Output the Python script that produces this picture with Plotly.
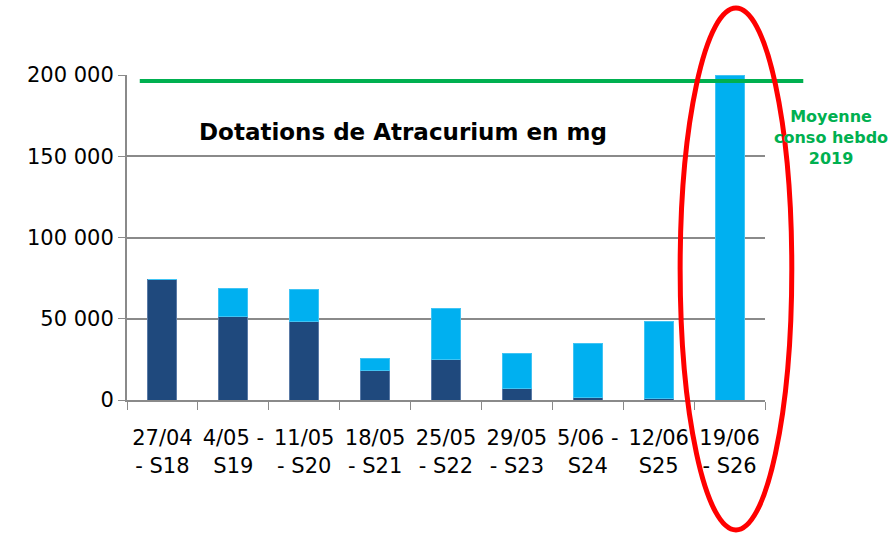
import plotly.graph_objects as go

categories = ["27/04<br>- S18", "4/05 -<br>S19", "11/05<br>- S20", "18/05<br>- S21",
              "25/05<br>- S22", "29/05<br>- S23", "5/06 -<br>S24", "12/06<br>S25", "19/06<br>- S26"]
dark_values = [74000, 51500, 48300, 18300, 24900, 7200, 1600, 1000, 0]
light_values = [0, 17100, 19500, 7000, 31400, 21400, 33100, 47300, 200000]
moyenne_2019 = 196300
y_ticks = [0, 50000, 100000, 150000, 200000]

FONT = "DejaVu Sans, sans-serif"
GRID = "#8a8a8a"

fig = go.Figure()
fig.add_trace(go.Bar(x=categories, y=dark_values, marker=dict(color="#1F497D", line=dict(color="#5a7aa6", width=1)),
                     width=0.41, name="S1"))
fig.add_trace(go.Bar(x=categories, y=light_values, marker=dict(color="#00B0F0", line=dict(color="#40c4f4", width=1)),
                     width=0.41, name="S2"))

fig.add_shape(type="line", xref="paper", yref="y", x0=0.02, x1=1.06, y0=moyenne_2019, y1=moyenne_2019,
              line=dict(color="#00B050", width=4))
fig.add_shape(type="circle", xref="paper", yref="paper", x0=0.867, x1=1.042, y0=-0.40, y1=1.206,
              line=dict(color="#FF0000", width=5))

fig.add_annotation(text="<b>Dotations de Atracurium en mg</b>", xref="paper", yref="paper",
                   x=0.433, y=0.825, xanchor="center", yanchor="middle", showarrow=False,
                   font=dict(family=FONT, size=23, color="#000000"))
fig.add_annotation(text="<b>Moyenne<br>conso hebdo<br>2019</b>", xref="paper", yref="paper",
                   x=1.104, y=0.809, xanchor="center", yanchor="middle", showarrow=False,
                   font=dict(family=FONT, size=16, color="#00B050"))

fig.update_layout(
    width=888, height=533,
    margin=dict(l=127, r=123, t=75, b=133),
    plot_bgcolor="white", paper_bgcolor="white",
    barmode="stack", showlegend=False,
    separators=", ",
    font=dict(family=FONT, size=21, color="#000000"),
    xaxis=dict(type="category", tickson="boundaries", ticks="outside", ticklen=8, tickcolor=GRID,
               showline=True, linecolor=GRID, linewidth=2, showgrid=False, ticklabelstandoff=18,
               tickfont=dict(family=FONT, size=21), tickangle=0),
    yaxis=dict(range=[0, 200000], tickvals=y_ticks, tickformat=",d", ticks="outside", ticklen=7,
               tickcolor=GRID, showline=True, linecolor=GRID, linewidth=2,
               showgrid=True, gridcolor=GRID, gridwidth=1.5, zeroline=False,
               tickfont=dict(family=FONT, size=21)),
)

fig.write_html("out.html", config={"displayModeBar": False},
               post_script="document.body.style.margin='0';document.body.style.padding='0';")
